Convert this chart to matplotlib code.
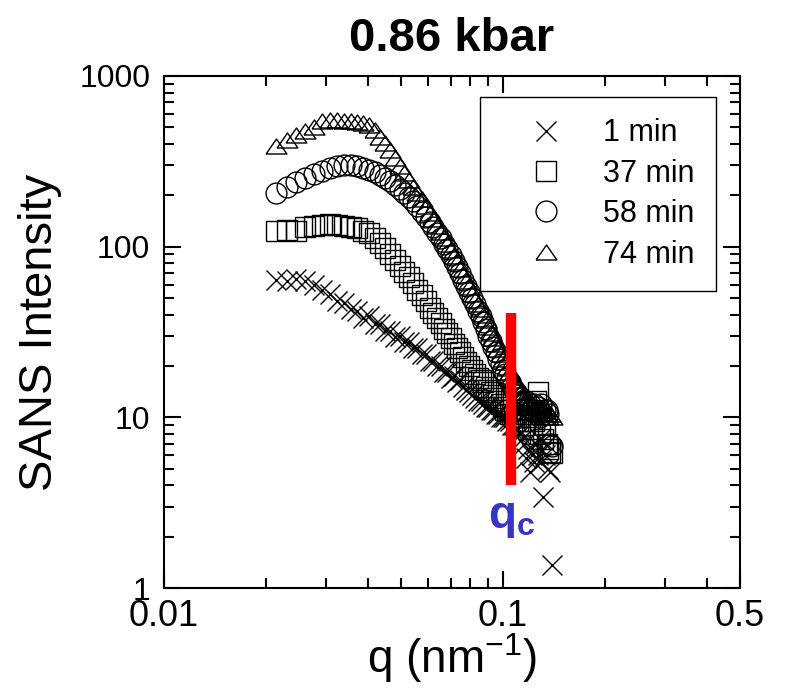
# SANS intensity vs q at 0.86 kbar, four time points
# log-log axes, open markers, red bar marks q_c

import numpy as np
import matplotlib
matplotlib.use('Agg')
import matplotlib.pyplot as plt
from matplotlib.ticker import FixedLocator, NullFormatter, LogLocator

plt.rcParams['font.family'] = ['Liberation Sans', 'DejaVu Sans']
plt.rcParams['mathtext.fontset'] = 'custom'
plt.rcParams['mathtext.rm'] = 'Liberation Sans'
plt.rcParams['mathtext.bf'] = 'Liberation Sans:bold'

# q values (nm^-1), same grid for all runs
q_nm = [0.0214, 0.0230, 0.0245, 0.0261, 0.0277, 0.0293, 0.0308, 0.0324, 0.0340, 0.0355,
        0.0371, 0.0387, 0.0402, 0.0418, 0.0434, 0.0450, 0.0465, 0.0481, 0.0497, 0.0512,
        0.0528, 0.0544, 0.0559, 0.0575, 0.0591, 0.0607, 0.0622, 0.0638, 0.0654, 0.0669,
        0.0685, 0.0701, 0.0716, 0.0732, 0.0748, 0.0764, 0.0779, 0.0795, 0.0811, 0.0826,
        0.0842, 0.0858, 0.0873, 0.0889, 0.0905, 0.0921, 0.0936, 0.0952, 0.0968, 0.0983,
        0.0999, 0.1015, 0.1030, 0.1046, 0.1062, 0.1078, 0.1093, 0.1109, 0.1125, 0.1140,
        0.1156, 0.1172, 0.1187, 0.1203, 0.1219, 0.1235, 0.1250, 0.1266, 0.1282, 0.1297,
        0.1313, 0.1329, 0.1344, 0.1360, 0.1376, 0.1392]

I_1min = [64, 63, 65, 63, 60, 56, 53, 48, 47, 43,
          42, 38, 39, 35, 35, 32, 32, 29.5, 30, 27.5,
          27.5, 25.5, 25.5, 23.5, 23.5, 21.5, 21.5, 20, 20, 18.5,
          18.5, 17, 17.5, 16, 16.5, 15, 14.5, 14, 13.5, 13,
          12.5, 12.5, 12, 11.5, 11.5, 11, 11, 10.5, 10.5, 10,
          10, 10, 9.5, 9.5, 9, 9, 8.5, 8.5, 8, 7.5,
          7, 5.8, 6.5, 4.8, 6, 5.5, 7, 6, 7.5, 5.5,
          3.4, 6, 7, 5, 4.8, 1.37]

I_37min = [124, 126, 124, 130, 132, 134, 135, 134, 133, 131,
           128, 124, 120, 112, 105, 98, 91, 84, 77, 71,
           66, 61, 56, 52, 48, 44, 41, 38, 35.5, 33,
           31, 29, 27, 25.5, 24, 22.5, 21, 20, 19, 18,
           17, 16.5, 16, 15, 14.5, 14, 13.5, 13, 12.5, 12,
           11.5, 11, 11, 10.5, 10.5, 10, 10, 9.5, 9.5, 12,
           9, 11, 8.5, 10, 8, 9.5, 12.5, 14, 8, 11,
           7.5, 9, 7, 6.5, 6.3, 6.2]

I_58min = [207, 224, 240, 253, 267, 278, 288, 296, 300, 300,
           296, 290, 282, 272, 262, 252, 241, 230, 218, 207,
           196, 184, 172, 160, 150, 140, 130, 120, 112, 104,
           97, 89, 82, 76, 70, 64, 59, 54, 50, 46,
           42, 39, 36, 33, 30, 28, 26, 24, 22, 20.5,
           19, 18, 17, 16, 15, 14.5, 14, 13.5, 13, 12.5,
           12, 12.5, 11.5, 12, 11, 12, 10.5, 11.5, 10, 12,
           10.5, 11, 11, 10.5, 7, 6.8]

I_74min = [390, 420, 450, 475, 500, 545, 550, 550, 545, 545,
           540, 530, 515, 480, 440, 405, 370, 330, 295, 270,
           245, 225, 205, 190, 172, 158, 145, 133, 122, 112,
           104, 95, 88, 81, 74, 68, 63, 58, 53, 49,
           46, 43, 40, 37, 34, 31, 29, 27, 25, 23.5,
           22, 21, 19.5, 18.5, 17.5, 16.5, 15.5, 15, 14, 13.5,
           13, 12.5, 12, 11.5, 12, 11, 11.5, 10.5, 11, 10.5,
           11, 10, 10.5, 10, 10.5, 10]

labels = ['1 min', '37 min', '58 min', '74 min']

# q_c marker bar
qc = 0.1055
qc_lo, qc_hi = 4.0, 41.0

# flat open triangle like the original
tri = [(-1, -0.72), (1, -0.72), (0, 0.72), (-1, -0.72)]

fig = plt.figure(figsize=(7.86, 6.90), dpi=100)
ax = fig.add_axes([0.2087, 0.1478, 0.7328, 0.7421])

series = [I_1min, I_37min, I_58min, I_74min]
markers = ['x', 's', 'o', tri]
for I, m, lab in zip(series, markers, labels):
    ax.plot(q_nm, I, ls='none', marker=m, ms=15, mfc='none', mec='k',
            mew=1.0, label=lab)

ax.plot([qc, qc], [qc_lo, qc_hi], color='#ff0000', lw=7.5,
        solid_capstyle='butt', zorder=5)
ax.text(0.1063, 3.45, r'$\mathbf{q_c}$', color='#3535c8', fontsize=33,
        ha='center', va='top')

ax.set_xscale('log')
ax.set_yscale('log')
ax.set_xlim(0.01, 0.5)
ax.set_ylim(1, 1000)

ax.xaxis.set_major_locator(FixedLocator([0.01, 0.1, 0.5]))
ax.set_xticklabels(['0.01', '0.1', '0.5'])
ax.xaxis.set_minor_locator(FixedLocator([0.02, 0.03, 0.04, 0.05, 0.06, 0.07,
                                         0.08, 0.09, 0.2, 0.3, 0.4]))
ax.xaxis.set_minor_formatter(NullFormatter())
ax.yaxis.set_major_locator(FixedLocator([1, 10, 100, 1000]))
ax.set_yticklabels(['1', '10', '100', '1000'])
ax.yaxis.set_minor_locator(LogLocator(base=10, subs=np.arange(2, 10)))
ax.yaxis.set_minor_formatter(NullFormatter())

ax.tick_params(which='both', direction='in', top=True, right=True, width=1.5)
ax.tick_params(which='major', length=12)
ax.tick_params(axis='x', which='major', pad=8, labelsize=26)
ax.tick_params(axis='y', which='major', pad=10, labelsize=23)
ax.tick_params(which='minor', length=7)
for s in ax.spines.values():
    s.set_linewidth(1.5)

ax.set_xlabel('q (nm$^{-1}$)', fontsize=33)
ax.xaxis.set_label_coords(0.5, -0.085)
ax.set_ylabel('SANS Intensity', fontsize=34)
ax.yaxis.set_label_coords(-0.178, 0.5)
ax.set_title('0.86 kbar', fontsize=34, fontweight='bold', pad=18)

leg = ax.legend(loc='upper right', bbox_to_anchor=(0.958, 0.959), numpoints=1,
                frameon=True, fancybox=False, edgecolor='k', framealpha=1,
                fontsize=22, handletextpad=0.42, borderpad=0.7,
                labelspacing=0.34, handlelength=2.9, borderaxespad=0)
leg.get_frame().set_linewidth(1.0)

fig.savefig('out.png', dpi=100)
